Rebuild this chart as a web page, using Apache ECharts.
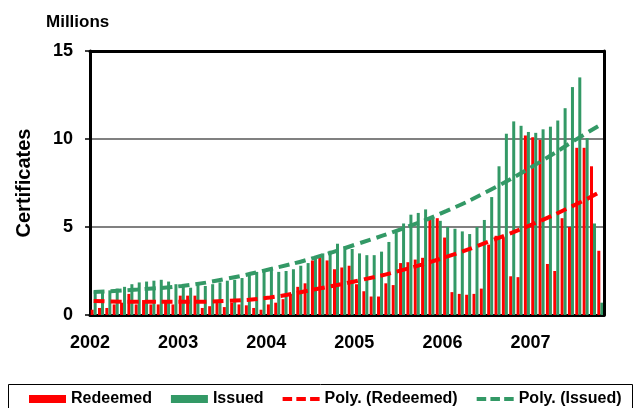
<!DOCTYPE html>
<html>
  <head>
    <meta http-equiv="Content-Type" content="text/html; charset=utf-8" />
    <title>Certificates</title>
    <script src="https://cdn.jsdelivr.net/npm/echarts@6/dist/echarts.min.js"></script>
    <style>
      html, body { margin: 0; padding: 0; background: #fff; }
      #chart { width: 635px; height: 408px; }
    </style>
  </head>
  <body>
    <div id="chart"></div>
    <script>
      // monthly values, Jan 2002 .. Oct 2007 (millions)
      var years = ['2002', '2003', '2004', '2005', '2006', '2007'];
      var redeemed = [
        0.3, 0.4, 0.4, 0.6, 0.7, 1.2, 0.6, 0.85, 0.6, 0.6, 0.8, 0.6,
        1.1, 1.1, 1.1, 0.4, 0.5, 0.7, 0.45, 0.7, 0.6, 0.55, 0.4, 0.3,
        0.6, 0.7, 0.9, 1.2, 1.6, 1.8, 3.1, 3.3, 3.1, 2.6, 2.7, 2.8,
        1.75, 1.35, 1.05, 1.05, 1.8, 1.7, 2.95, 3.0, 3.15, 3.25, 5.5, 5.5,
        4.4, 1.3, 1.2, 1.15, 1.2, 1.5, 4.0, 4.5, 4.4, 2.2, 2.15, 10.2,
        10.1, 9.95, 2.9, 2.5, 5.5, 5.0, 9.5, 9.5, 8.45, 3.65
      ];
      var issued = [
        1.35, 1.35, 1.4, 1.5, 1.6, 1.75, 1.85, 1.9, 1.95, 2.0, 1.9, 1.75,
        1.7, 1.55, 1.7, 1.65, 1.75, 1.85, 1.95, 2.0, 2.1, 2.3, 2.45, 2.55,
        2.7, 2.45, 2.5, 2.6, 2.8, 2.95, 3.3, 3.5, 3.65, 4.05, 3.9, 3.75,
        3.5, 3.4, 3.4, 3.6, 4.15, 4.7, 5.2, 5.7, 5.8, 6.0, 5.5, 5.35,
        5.0, 4.9, 4.75, 4.6, 5.0, 5.4, 6.7, 8.45, 10.3, 11.0, 10.75, 10.4,
        10.35, 10.55, 10.7, 11.05, 11.75, 12.95, 13.5, 10.05, 5.2, 0.7
      ];
      // trendlines (x = months since Jan 2002, at month centres)
      var trendX = [0.5, 6.5, 12.5, 18.5, 24.5, 30.5, 36.5, 42.5, 48.5, 54.5, 60.5, 66.5, 69.5];
      var redeemedTrend = [0.8, 0.75, 0.75, 0.8, 1.0, 1.45, 1.95, 2.55, 3.3, 4.2, 5.2, 6.35, 7.0];
      var issuedTrend = [1.3, 1.45, 1.65, 2.05, 2.6, 3.25, 4.05, 4.9, 5.9, 7.1, 8.5, 10.05, 10.8];

      var months = [];
      for (var i = 0; i < redeemed.length; i++) {
        var y = years[Math.floor(i / 12)];
        var m = (i % 12) + 1;
        months.push(y + '-' + (m < 10 ? '0' + m : m));
      }

      function pairs(xs, ys) {
        var out = [];
        for (var k = 0; k < xs.length; k++) out.push([xs[k], ys[k]]);
        return out;
      }

      var font = "'Liberation Sans', Arial, sans-serif";
      var RED = '#FF0000', GREEN = '#339966';
      // three short dashes for the trendline legend keys
      var dashIcon = 'path://M0,0h9v4h-9z M13,0h9v4h-9z M26,0h9v4h-9z';

      var myChart = echarts.init(document.getElementById('chart'));
      var option = {
        animation: false,
        textStyle: { fontFamily: font },
        title: {
          text: 'Millions', left: 41, top: 9,
          textStyle: { fontSize: 17, fontWeight: 'bold', color: '#000', fontFamily: font }
        },
        legend: {
          left: 24, top: 386,
          itemWidth: 37, itemHeight: 8, itemGap: 19,
          textStyle: { fontSize: 16, fontWeight: 'bold', color: '#000', fontFamily: font },
          data: [
            { name: 'Redeemed', icon: 'rect' },
            { name: 'Issued', icon: 'rect' },
            { name: 'Poly. (Redeemed)', icon: dashIcon, itemStyle: { color: RED } },
            { name: 'Poly. (Issued)', icon: dashIcon, itemStyle: { color: GREEN } }
          ]
        },
        graphic: [{
          type: 'rect', left: 6, top: 382,
          shape: { width: 624, height: 24 },
          style: { fill: 'none', stroke: '#000', lineWidth: 1 }
        }],
        grid: {
          left: 90, right: 31, top: 51, bottom: 93
        },
        xAxis: [
          {
            type: 'category', data: months, boundaryGap: true,
            axisLine: { lineStyle: { color: '#000', width: 3 } },
            axisTick: {
              length: 6, lineStyle: { color: '#000', width: 1.5 },
              interval: function (idx) { return idx % 12 === 0; }
            },
            axisLabel: { show: false }
          },
          {
            type: 'value', min: 0, max: 70, interval: 12, position: 'bottom',
            axisLine: { show: false }, axisTick: { show: false }, splitLine: { show: false },
            axisLabel: {
              margin: 19, fontSize: 18, fontWeight: 'bold', color: '#000', fontFamily: font,
              formatter: function (v) {
                var k = v / 12;
                return (k === Math.floor(k) && k < years.length) ? years[k] : '';
              }
            }
          },
          {
            // top edge of the plot frame
            type: 'category', data: months, position: 'top', z: 5,
            axisLine: { lineStyle: { color: '#000', width: 3 } },
            axisTick: { show: false }, axisLabel: { show: false }
          }
        ],
        yAxis: [
          {
            type: 'value', min: 0, max: 15, interval: 5,
            name: 'Certificates', nameLocation: 'middle', nameGap: 56, nameRotate: 90,
            nameTextStyle: { fontSize: 20, fontWeight: 'bold', color: '#000', fontFamily: font },
            axisLine: { show: true, lineStyle: { color: '#000', width: 3 } },
            axisTick: { show: true, length: 5, lineStyle: { color: '#000', width: 1.5 } },
            axisLabel: { margin: 17, fontSize: 18, fontWeight: 'bold', color: '#000', fontFamily: font },
            splitLine: { lineStyle: { color: '#808080', width: 2 } }
          },
          {
            // right edge of the plot frame
            type: 'value', min: 0, max: 15, position: 'right', z: 5,
            axisLine: { show: true, lineStyle: { color: '#000', width: 3 } },
            axisTick: { show: false }, axisLabel: { show: false }, splitLine: { show: false }
          }
        ],
        series: [
          {
            name: 'Redeemed', type: 'bar', data: redeemed,
            barWidth: 3, barGap: '0%',
            itemStyle: { color: RED }
          },
          {
            name: 'Issued', type: 'bar', data: issued,
            barWidth: 3,
            itemStyle: { color: GREEN }
          },
          {
            name: 'Poly. (Redeemed)', type: 'line', xAxisIndex: 1,
            data: pairs(trendX, redeemedTrend), smooth: true,
            symbol: 'none', itemStyle: { color: RED },
            lineStyle: { color: RED, width: 4, type: [11, 6] }
          },
          {
            name: 'Poly. (Issued)', type: 'line', xAxisIndex: 1,
            data: pairs(trendX, issuedTrend), smooth: true,
            symbol: 'none', itemStyle: { color: GREEN },
            lineStyle: { color: GREEN, width: 4, type: [11, 6] }
          }
        ]
      };
      myChart.setOption(option);
    </script>
  </body>
</html>
